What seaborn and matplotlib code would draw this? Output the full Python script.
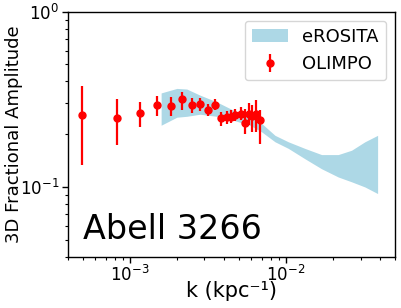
import numpy as np
import matplotlib
matplotlib.use("Agg")
import matplotlib.pyplot as plt
import seaborn as sns

# OLIMPO points
k_olimpo = [4.98e-4, 8.29e-4, 1.16e-3, 1.50e-3, 1.83e-3, 2.15e-3, 2.50e-3, 2.82e-3,
            3.16e-3, 3.49e-3, 3.83e-3, 4.17e-3, 4.45e-3, 4.75e-3, 5.12e-3, 5.50e-3,
            5.80e-3, 6.10e-3, 6.45e-3, 6.80e-3]
amp_olimpo = [0.257, 0.246, 0.265, 0.294, 0.291, 0.318, 0.295, 0.299, 0.275, 0.295,
              0.246, 0.250, 0.252, 0.257, 0.262, 0.231, 0.260, 0.253, 0.262, 0.240]
amp_lo = [0.133, 0.173, 0.221, 0.255, 0.254, 0.275, 0.265, 0.272, 0.254, 0.275,
          0.223, 0.230, 0.232, 0.237, 0.240, 0.200, 0.226, 0.206, 0.206, 0.175]
amp_hi = [0.379, 0.318, 0.307, 0.332, 0.328, 0.350, 0.323, 0.320, 0.296, 0.318,
          0.267, 0.272, 0.274, 0.280, 0.285, 0.280, 0.300, 0.295, 0.313, 0.275]

# eROSITA band
k_erosita = [1.589e-3, 2.004e-3, 2.32e-3, 2.82e-3, 3.60e-3, 4.61e-3, 5.89e-3, 7.0e-3,
             8.51e-3, 1.035e-2, 1.32e-2, 1.69e-2, 2.16e-2, 2.63e-2, 3.20e-2, 3.86e-2]
band_upper = [0.344, 0.365, 0.362, 0.334, 0.306, 0.274, 0.251, 0.230,
              0.197, 0.181, 0.166, 0.153, 0.153, 0.162, 0.181, 0.197]
band_lower = [0.225, 0.250, 0.253, 0.260, 0.253, 0.240, 0.225, 0.206,
              0.181, 0.166, 0.145, 0.127, 0.114, 0.107, 0.100, 0.0917]

sns.set_style("ticks")
plt.rcParams['font.family'] = ['DejaVu Sans']
plt.rcParams.update({'text.color': 'black', 'axes.labelcolor': 'black',
                     'xtick.color': 'black', 'ytick.color': 'black'})

fig = plt.figure(figsize=(4.02, 3.08), dpi=100)
ax = fig.add_axes([0.168, 0.1666, 0.815, 0.7954])

ax.fill_between(k_erosita, band_lower, band_upper, color='lightblue', lw=0, label='eROSITA')

amp = np.array(amp_olimpo)
yerr = [amp - np.array(amp_lo), np.array(amp_hi) - amp]
ax.errorbar(k_olimpo, amp_olimpo, yerr=yerr, fmt='o', color='red', ms=5, elinewidth=1.6,
            capsize=0, label='OLIMPO')

ax.set_xscale('log')
ax.set_yscale('log')
ax.set_xlim(4e-4, 5e-2)
ax.set_ylim(0.04, 1)

ax.set_xlabel('k (kpc⁻¹)', fontsize=15)
ax.set_ylabel('3D Fractional Amplitude', fontsize=13)
ax.xaxis.set_label_coords(0.5, -0.10)
ax.yaxis.set_label_coords(-0.136, 0.5)
ax.tick_params(axis='both', which='major', labelsize=12, direction='out', length=4, width=1, pad=2)
ax.tick_params(axis='both', which='minor', direction='out', length=2.5, width=0.8)
for s in ax.spines.values():
    s.set_color('black')
    s.set_linewidth(1)

ax.text(0.047, 0.071, 'Abell 3266', transform=ax.transAxes, fontsize=24, va='baseline', ha='left')

ax.legend(loc='upper right', fontsize=13, frameon=True, handlelength=2,
          borderpad=0.4, labelspacing=0.5)

fig.savefig('out.png', dpi=100)
